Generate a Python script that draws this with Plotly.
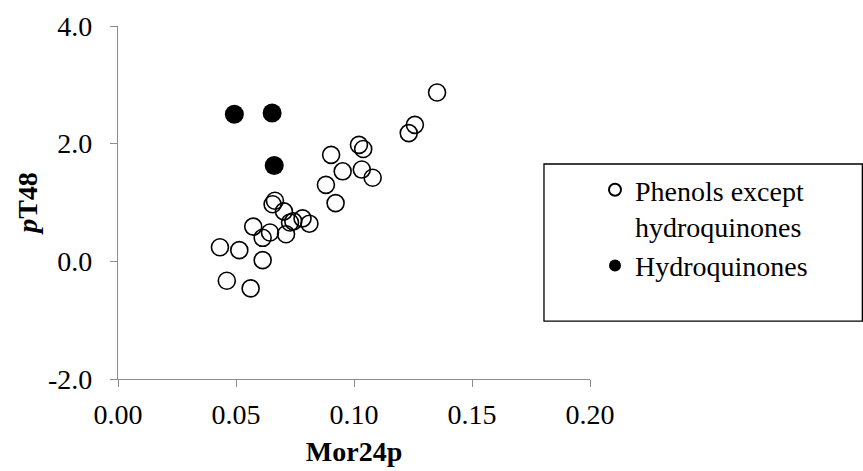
import plotly.graph_objects as go

# Mor24p descriptor vs. toxicity pT48
phenols_x = [0.1352, 0.1258, 0.1232, 0.1021, 0.1039, 0.0903, 0.0952, 0.1033,
             0.1079, 0.0881, 0.0922, 0.0665, 0.0655, 0.0703, 0.0743, 0.0782,
             0.0811, 0.0729, 0.0712, 0.0573, 0.0644, 0.0613, 0.0432, 0.0514,
             0.0613, 0.0461, 0.0562]
phenols_y = [2.87, 2.32, 2.18, 1.98, 1.91, 1.81, 1.53, 1.56,
             1.42, 1.30, 0.99, 1.03, 0.97, 0.85, 0.68, 0.73,
             0.64, 0.66, 0.46, 0.59, 0.49, 0.40, 0.24, 0.19,
             0.02, -0.33, -0.46]

hydroquinones_x = [0.0493, 0.0653, 0.0662]
hydroquinones_y = [2.50, 2.52, 1.63]

x_ticks = [0.00, 0.05, 0.10, 0.15, 0.20]
x_tick_labels = ["0.00", "0.05", "0.10", "0.15", "0.20"]
y_ticks = [-2.0, 0.0, 2.0, 4.0]
y_tick_labels = ["-2.0", "0.0", "2.0", "4.0"]

FONT = "Liberation Serif"
FSIZE = 28
AXIS_GREY = "#8c8c8c"

fig = go.Figure()
fig.add_trace(go.Scatter(
    x=phenols_x, y=phenols_y, mode="markers",
    name="Phenols except<br>hydroquinones",
    marker=dict(symbol="circle-open", size=17, color="black",
                line=dict(width=1.6, color="black")),
))
fig.add_trace(go.Scatter(
    x=hydroquinones_x, y=hydroquinones_y, mode="markers",
    name="Hydroquinones",
    marker=dict(symbol="circle", size=19, color="black",
                line=dict(width=0)),
))

fig.update_xaxes(
    range=[0, 0.2], tickvals=x_ticks, ticktext=x_tick_labels,
    showline=True, linecolor=AXIS_GREY, linewidth=1.3,
    ticks="outside", ticklen=7, tickcolor=AXIS_GREY, tickwidth=1.3,
    showgrid=False, zeroline=False, ticklabelstandoff=3,
    tickfont=dict(family=FONT, size=FSIZE, color="black"),
    title=dict(text="<b>Mor24p</b>", standoff=12,
               font=dict(family=FONT, size=FSIZE, color="black")),
)
fig.update_yaxes(
    range=[-2, 4], tickvals=y_ticks, ticktext=y_tick_labels,
    showline=True, linecolor=AXIS_GREY, linewidth=1.3,
    ticks="outside", ticklen=7, tickcolor=AXIS_GREY, tickwidth=1.3,
    showgrid=False, zeroline=False, ticklabelstandoff=12,
    tickfont=dict(family=FONT, size=FSIZE, color="black"),
    title=dict(text="<b><i>p</i>T48</b>", standoff=2,
               font=dict(family=FONT, size=FSIZE, color="black")),
)

# legend frame
fig.add_shape(type="rect", xref="paper", yref="paper",
              x0=0.9025, x1=1.577, y0=0.164, y1=0.609,
              line=dict(color="black", width=1.3), fillcolor="rgba(0,0,0,0)")

fig.update_layout(
    width=863, height=471,
    margin=dict(l=118, r=273, t=26, b=92, autoexpand=False),
    paper_bgcolor="white", plot_bgcolor="white",
    font=dict(family=FONT, size=FSIZE, color="black"),
    showlegend=True,
    legend=dict(x=595 / 863, y=1 - 165 / 471, xref="container", yref="container",
                xanchor="left", yanchor="top",
                bgcolor="rgba(0,0,0,0)", borderwidth=0,
                itemsizing="constant", valign="top",
                font=dict(family=FONT, size=FSIZE, color="black"),
                tracegroupgap=0),
)

fig.write_html("out.html")
